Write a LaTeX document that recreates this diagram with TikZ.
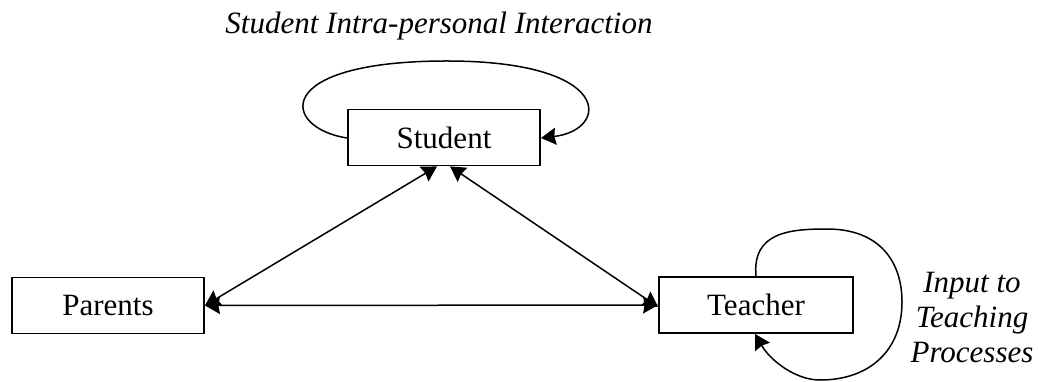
\documentclass[tikz,border=0pt]{standalone}
\usepackage{fontspec}
\setmainfont{Liberation Serif}
\usetikzlibrary{arrows.meta}
\tikzset{
  tip/.tip={Stealth[length=15pt,width=17pt,inset=1.5pt]},
  box/.style={draw, line width=1.8pt, inner sep=0pt, minimum width=192pt, minimum height=56pt, font=\fontsize{31}{35}\selectfont},
  conn/.style={line width=1.5pt, tip-tip},
  loop/.style={line width=1.5pt, -tip},
  lbl/.style={inner sep=0pt, font=\fontsize{31}{35}\selectfont\itshape}
}
\begin{document}
\begin{tikzpicture}[x=1pt,y=-1pt]
\useasboundingbox (0,0) rectangle (1038,381);
\node[box] (S) at (444,137.5) {Student};
\node[box] (P) at (108,305.5) {Parents};
\node[box, minimum width=194pt] (T) at (756,305) {Teacher};
\node[lbl, anchor=base] (title) at (439,33) {Student Intra-personal Interaction};
\node[lbl, anchor=north, align=center] (input) at (972,272) {Input to\\Teaching\\Processes};
\draw[conn] ([xshift=-7pt]S.south) -- (P.east);
\draw[conn] ([xshift=6pt]S.south) -- ([yshift=-2pt]T.west);
\draw[conn] (P.east) -- (T.west);
\draw[loop] ([yshift=-0.5pt]S.west) .. controls (282,128) and (270,62) .. (443,61)
  .. controls (615,60) and (610,130) .. ([yshift=-0.5pt]S.east);
\draw[loop] (T.north) .. controls (752,232) and (790,229) .. (827,229)
  .. controls (880,229) and (902,262) .. (902,302)
  .. controls (902,350) and (870,380) .. (820,380)
  .. controls (795,380) and (770,360) .. ([xshift=-1pt]T.south);
\end{tikzpicture}
\end{document}
